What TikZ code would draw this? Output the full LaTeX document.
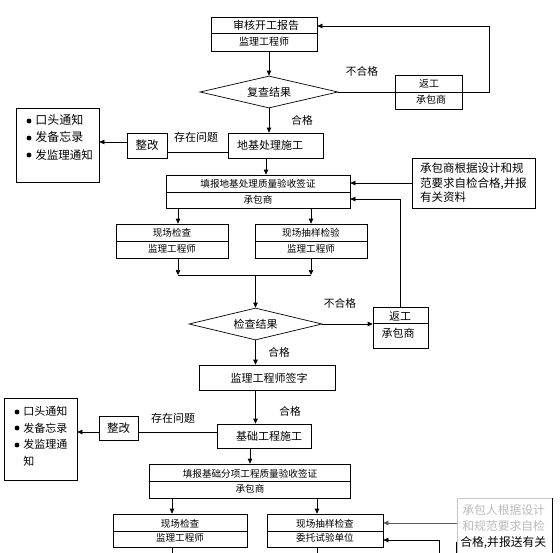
\documentclass[tikz,border=0pt]{standalone}
\usepackage{fontspec}
\setmainfont{Noto Sans CJK SC}
\usetikzlibrary{arrows.meta,shapes.geometric}
\newcommand\myfs[1]{\fontsize{#1}{#1}\selectfont}
\begin{document}
\begin{tikzpicture}[x=1pt,y=-1pt,line width=0.7pt,
  >={Triangle[length=5pt,width=4.5pt]},
  box/.style={draw,rectangle,inner sep=0pt},
  dia/.style={draw,diamond,inner sep=0pt,aspect=4.2},
  lbl/.style={inner sep=0pt,font=\myfs{10.7}},
  t11/.style={inner sep=0pt,font=\myfs{11}},
  t10/.style={inner sep=0pt,font=\myfs{10}},
  t95/.style={inner sep=0pt,font=\myfs{9.6}},
  li/.style={inner sep=0pt,anchor=west}]
\useasboundingbox (0,0) rectangle (560,552);
% ---------- top part ----------
\node[box,minimum width=106pt,minimum height=34pt] (A) at (264,34) {};
\draw ([yshift=1pt]A.west) -- ([yshift=1pt]A.east);
\node[t11] (a1) at (266,25) {审核开工报告};
\node[t10] (a2) at (264,42) {监理工程师};
\node[dia,minimum width=138pt,minimum height=32pt,font=\myfs{11}] (D1) at (269,92) {复查结果};
\node[box,minimum width=67pt,minimum height=34pt] (R1) at (428.5,92) {};
\draw (R1.west) -- (R1.east);
\node[t10] (r1a) at (429,84) {返工};
\node[t10] (r1b) at (431,100) {承包商};
\coordinate (k1) at (489,92);
\coordinate (k2) at (489,26);
\draw[->] (A.south -| D1.north) -- (D1.north);
\draw (D1.east) -- (R1.west);
\draw[->] (R1.east) -- (k1) -- (k2) -- (k2 -| A.east);
\node[lbl] (ng1) at (362,71) {不合格};
\node[lbl] (ok1) at (302,120) {合格};
% ---------- 地基处理施工 ----------
\node[box,minimum width=95pt,minimum height=25pt] (B) at (275.5,145.5) {};
\node[t11] (b1) at (270,145) {地基处理施工};
\draw[->] (D1.south) -- (D1.south |- B.north);
\node[box,minimum width=40pt,minimum height=25pt,font=\myfs{11.5}] (Z1) at (147,145.5) {整改};
\node[box,minimum width=83pt,minimum height=74pt] (L1) at (57.5,145) {};
\draw ([yshift=-6.5pt]B.west) -- ([yshift=-6.5pt]B.west -| Z1.east);
\draw[->] ([yshift=3.5pt]Z1.west) -- ([yshift=3.5pt]Z1.west -| L1.east);
\node[t11] (q1) at (196,137) {存在问题};
\fill (29,121) circle (2.4pt) (29,138) circle (2.4pt) (29,155) circle (2.4pt);
\node[li,font=\myfs{12}] (l1a) at (35,120) {口头通知};
\node[li,font=\myfs{12}] (l1b) at (35,137) {发备忘录};
\node[li,font=\myfs{11.5}] (l1c) at (35,155) {发监理通知};
% ---------- 填报地基 ----------
\node[box,minimum width=184pt,minimum height=33pt] (C) at (258,191.5) {};
\draw ([yshift=-0.5pt]C.west) -- ([yshift=-0.5pt]C.east);
\node[t95] (c1) at (258,184) {填报地基处理质量验收签证};
\node[t95] (c2) at (258,200) {承包商};
\coordinate (bs) at ([xshift=-9.5pt]B.south);
\draw[->] (bs) -- (bs |- C.north);
\node[box,minimum width=123pt,minimum height=50pt,align=left,
  font={\fontsize{11.5}{14.5}\selectfont}] (N1) at (473.5,183)
  {承包商根据设计和规\\范要求自检合格,并报\\有关资料};
\draw[->] (N1.west) -- (N1.west -| C.east);
% ---------- 现场检查 (1) ----------
\node[box,minimum width=112pt,minimum height=34pt] (E1) at (172,241) {};
\draw (E1.west) -- (E1.east);
\node[t95] (e1a) at (172,233) {现场检查};
\node[t95] (e1b) at (172,249) {监理工程师};
\node[box,minimum width=112pt,minimum height=34pt] (E2) at (311,241) {};
\draw (E2.west) -- (E2.east);
\node[t95] (e2a) at (311,233) {现场抽样检验};
\node[t95] (e2b) at (311,249) {监理工程师};
\coordinate (e1t) at ([xshift=6pt]E1.north);
\coordinate (e1s) at ([xshift=6pt]E1.south);
\draw[->] (e1t |- C.south) -- (e1t);
\draw[->] (E2.north |- C.south) -- (E2.north);
\coordinate (jl) at (178,275);
\coordinate (jr) at (311,275);
\coordinate (jm) at (255.5,275);
\draw[->] (e1s) -- (jl);
\draw[->] (E2.south) -- (jr);
\draw (jl) -- (jr);
% ---------- 检查结果 ----------
\node[dia,minimum width=133pt,minimum height=32pt,font=\myfs{11}] (D2) at (255.5,324) {检查结果};
\draw[->] (jm) -- (D2.north);
\node[box,minimum width=55pt,minimum height=41pt] (R2) at (400.5,327.5) {};
\draw ([yshift=4.5pt]R2.west) -- ([yshift=4.5pt]R2.east);
\node[t11] (r2a) at (400,316) {返工};
\node[t11] (r2b) at (398,333) {承包商};
\draw[->] (D2.east) -- (D2.east -| R2.west);
\coordinate (c2in) at ([yshift=-7.5pt]C.east);
\draw[->] (R2.north) |- (c2in);
\node[lbl] (ng2) at (340,303) {不合格};
\node[lbl] (ok2) at (279,352) {合格};
% ---------- 监理工程师签字 ----------
\node[box,minimum width=136pt,minimum height=25pt] (F) at (267,377.5) {};
\node[t11] (f1) at (269,378) {监理工程师签字};
\draw[->] (D2.south) -- (D2.south |- F.north);
\coordinate (fs) at (F.south -| D2.south);
% ---------- 基础工程施工 ----------
\node[box,minimum width=94pt,minimum height=24pt] (G) at (264,436) {};
\node[t11] (g1) at (269,436) {基础工程施工};
\draw[->] (fs) -- (fs |- G.north);
\node[lbl] (ok3) at (290,411) {合格};
\node[box,minimum width=39pt,minimum height=24pt,font=\myfs{11.5}] (Z2) at (118.5,428) {整改};
\node[box,minimum width=73pt,minimum height=82pt] (L2) at (40.5,439) {};
\draw ([yshift=4pt]G.west) -- ([yshift=4pt]G.west -| Z2.east);
\draw[->] ([yshift=-4pt]Z2.west) -- ([yshift=-4pt]Z2.west -| L2.east);
\node[t11] (q2) at (173,418) {存在问题};
\fill (17,412) circle (2.4pt) (17,428) circle (2.4pt) (17,445) circle (2.4pt);
\node[li,font=\myfs{11}] (l2a) at (23,411) {口头通知};
\node[li,font=\myfs{11}] (l2b) at (23,428) {发备忘录};
\node[li,font=\myfs{11}] (l2c) at (23,444) {发监理通};
\node[li,font=\myfs{11}] (l2d) at (23,461) {知};
% ---------- 填报基础 ----------
\node[box,minimum width=201pt,minimum height=34pt] (H) at (249.5,481) {};
\draw (H.west) -- (H.east);
\node[t95] (h1) at (250,474) {填报基础分项工程质量验收签证};
\node[t95] (h2) at (250,489) {承包商};
\coordinate (gs) at ([xshift=-14pt]G.south);
\draw[->] (gs) -- (gs |- H.north);
% ---------- bottom row ----------
\node[box,minimum width=134pt,minimum height=33pt] (I1) at (180,530.5) {};
\draw ([yshift=-0.5pt]I1.west) -- ([yshift=-0.5pt]I1.east);
\node[t95] (i1a) at (180,524) {现场检查};
\node[t95] (i1b) at (180,538) {监理工程师};
\node[box,minimum width=116pt,minimum height=33pt] (I2) at (325,530.5) {};
\draw ([yshift=-0.5pt]I2.west) -- ([yshift=-0.5pt]I2.east);
\node[t95] (i2a) at (325,524) {现场抽样检查};
\node[t95] (i2b) at (325,538) {委托试验单位};
\coordinate (i1t) at ([xshift=-8pt]I1.north);
\coordinate (i2t) at ([xshift=-8pt]I2.north);
\coordinate (i1s) at ([xshift=-8pt]I1.south);
\coordinate (i2s) at ([xshift=-8pt]I2.south);
\coordinate (i1e) at (172,556);
\coordinate (i2e) at (317,556);
\draw[->] (i1t |- H.south) -- (i1t);
\draw[->] (i2t |- H.south) -- (i2t);
\draw (i1s) -- (i1e);
\draw (i2s) -- (i2e);
% note 3
\node[box,draw=gray!45,minimum width=95pt,minimum height=64pt] (N3) at (504.5,530) {};
\draw (N3.north east) -- (N3.south east);
\draw ([yshift=-12pt]N3.west) -- (N3.south west);
\node[li,font=\myfs{11.8},text=gray!55] (n3a) at (462,510) {承包人根据设计};
\node[li,font=\myfs{11.8},text=gray!55] (n3b) at (462,526) {和规范要求自检};
\node[li,font=\myfs{11.8}] (n3c) at (460,543) {合格,并报送有关};
\draw[->,draw=gray!70!black] ([yshift=7pt]N3.west) -- ([yshift=7pt]N3.west -| I2.east);
\coordinate (n3e) at (439,556);
\draw[->] (n3e) |- ([yshift=-9.5pt]I2.east);
\end{tikzpicture}
\end{document}
